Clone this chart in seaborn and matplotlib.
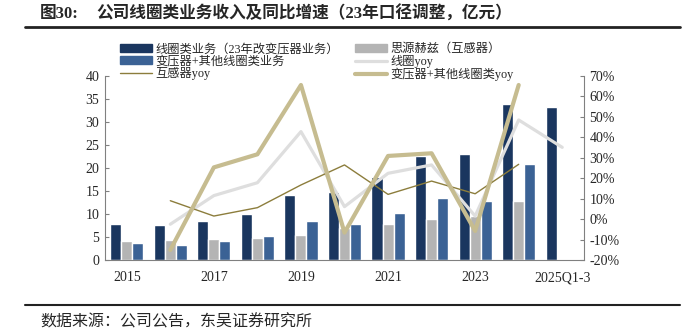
import matplotlib
matplotlib.use("Agg")
import matplotlib.pyplot as plt
import seaborn as sns
import pandas as pd
import numpy as np
from matplotlib.patches import Patch
from matplotlib.lines import Line2D

categories = ["2015", "2016", "2017", "2018", "2019", "2020", "2021", "2022", "2023", "2024", "2025Q1-3"]
tick_labels = ["2015", "", "2017", "", "2019", "", "2021", "", "2023", "", "2025Q1-3"]

coil_rev = [7.9, 7.6, 8.5, 10.0, 14.1, 14.7, 18.0, 22.6, 23.0, 33.9, 33.2]
sieyuan_rev = [4.1, 4.4, 4.5, 4.7, 5.4, 6.9, 7.8, 9.0, 9.6, 12.8, np.nan]
transformer_rev = [3.8, 3.3, 4.1, 5.2, 8.5, 7.9, 10.3, 13.5, 12.8, 20.9, np.nan]

coil_yoy = [np.nan, -2.5, 11.5, 17.8, 42.8, 6.1, 22.4, 26.5, 1.5, 48.5, 35.1]
inductor_yoy = [np.nan, 9.0, 1.5, 5.6, 16.7, 26.5, 12.1, 18.6, 12.4, 26.8, np.nan]
transformer_yoy = [np.nan, -15.1, 25.3, 31.7, 65.6, -6.6, 30.9, 32.2, -5.8, 65.6, np.nan]

bar_names = ["线圈类业务（23年改变压器业务）", "思源赫兹（互感器）", "变压器+其他线圈类业务"]
line_names = ["线圈yoy", "互感器yoy", "变压器+其他线圈类yoy"]

c_navy = "#1a365f"
c_gray = "#b4b4b4"
c_blue = "#3b6295"
c_lgray = "#dedede"
c_olive = "#8c7d3c"
c_khaki = "#c6bc90"

sns.set_style("white")
plt.rcParams['font.family'] = ['Liberation Serif', 'Noto Sans CJK SC', 'DejaVu Sans']
plt.rcParams['axes.unicode_minus'] = False

rows = []
for name, vals in zip(bar_names, [coil_rev, sieyuan_rev, transformer_rev]):
    for c, v in zip(categories, vals):
        rows.append({"cat": c, "series": name, "value": v})
df_bar = pd.DataFrame(rows)

fig = plt.figure(figsize=(6.83, 3.33), dpi=100)
ax = fig.add_axes([105/683, 1-260/333, (584-105)/683, (260-76)/333])

sns.barplot(data=df_bar, x="cat", y="value", hue="series", order=categories,
            hue_order=bar_names, palette=[c_navy, c_gray, c_blue],
            width=0.76, ax=ax, legend=False, saturation=1, errorbar=None)

ax.set_ylim(0, 40)
ax.set_yticks(range(0, 41, 5))
ax.set_xlim(-0.5, 10.5)
ax.set_xlabel("")
ax.set_ylabel("")
ax.set_xticks(range(len(categories)))
ax.set_xticklabels(tick_labels)
ax.set_xticks(np.arange(-0.5, 11, 1), minor=True)
ax.tick_params(axis="x", which="major", length=0, labelsize=10, pad=8)
ax.tick_params(axis="x", which="minor", direction="in", length=3, color="#808080")
ax.tick_params(axis="y", direction="in", length=3, color="#808080", labelsize=10, pad=4, left=True)

ax2 = ax.twinx()
x = np.arange(len(categories))
df_line = pd.DataFrame({"x": x, "coil": coil_yoy, "ind": inductor_yoy, "tr": transformer_yoy})
sns.lineplot(data=df_line, x="x", y="coil", ax=ax2, color=c_lgray, linewidth=2.3)
sns.lineplot(data=df_line, x="x", y="ind", ax=ax2, color=c_olive, linewidth=1.0)
sns.lineplot(data=df_line, x="x", y="tr", ax=ax2, color=c_khaki, linewidth=3.0)
ax2.set_ylim(-20, 70)
ax2.set_yticks(range(-20, 71, 10))
ax2.set_yticklabels([f"{v}%" for v in range(-20, 71, 10)])
ax2.set_xlim(-0.5, 10.5)
ax2.set_ylabel("")
ax2.set_xlabel("")
ax2.tick_params(axis="y", direction="in", length=3, color="#808080", labelsize=10, pad=4, right=True)

for a in (ax, ax2):
    a.spines["top"].set_visible(False)
    for s in ("left", "right", "bottom"):
        a.spines[s].set_color("#808080")
        a.spines[s].set_linewidth(0.8)
ax.spines["right"].set_visible(False)
ax2.spines["left"].set_visible(False)
ax2.spines["bottom"].set_visible(False)

handles = [
    Patch(facecolor=c_navy, edgecolor=c_navy),
    Patch(facecolor=c_blue, edgecolor=c_blue),
    Line2D([0], [0], color=c_olive, lw=1.0),
    Patch(facecolor=c_gray, edgecolor=c_gray),
    Line2D([0], [0], color=c_lgray, lw=2.3),
    Line2D([0], [0], color=c_khaki, lw=3.0),
]
labels = [bar_names[0], bar_names[2], line_names[1], bar_names[1], line_names[0], line_names[2]]
fig.legend(handles, labels, loc="upper left", bbox_to_anchor=(114/683, 1-37/333), ncol=2,
           frameon=False, handlelength=2.6, handleheight=0.7,
           labelspacing=0.0, columnspacing=1.3, handletextpad=0.3, borderpad=0,
           prop={'family': ['Liberation Serif', 'Noto Sans CJK SC'], 'size': 8.8})

fig.text(40/683, 1-14/333, "图30:", fontsize=12, fontweight="bold", va="center", ha="left",
         family=['Liberation Serif', 'Noto Sans CJK SC'])
fig.text(96/683, 1-14/333, "公司线圈类业务收入及同比增速（23年口径调整，亿元）", fontsize=12,
         fontweight="bold", va="center", ha="left", family=['Liberation Serif', 'Noto Sans CJK SC'])
fig.add_artist(Line2D([25/683, 680/683], [1-27/333, 1-27/333], color="#222222", lw=2.0))
fig.add_artist(Line2D([25/683, 680/683], [1-305/333, 1-305/333], color="#222222", lw=1.5))
fig.text(40/683, 1-322/333, "数据来源：公司公告，东吴证券研究所", fontsize=11.5, va="center", ha="left",
         family=['Noto Sans CJK SC'])

fig.savefig("out.png", dpi=100)
